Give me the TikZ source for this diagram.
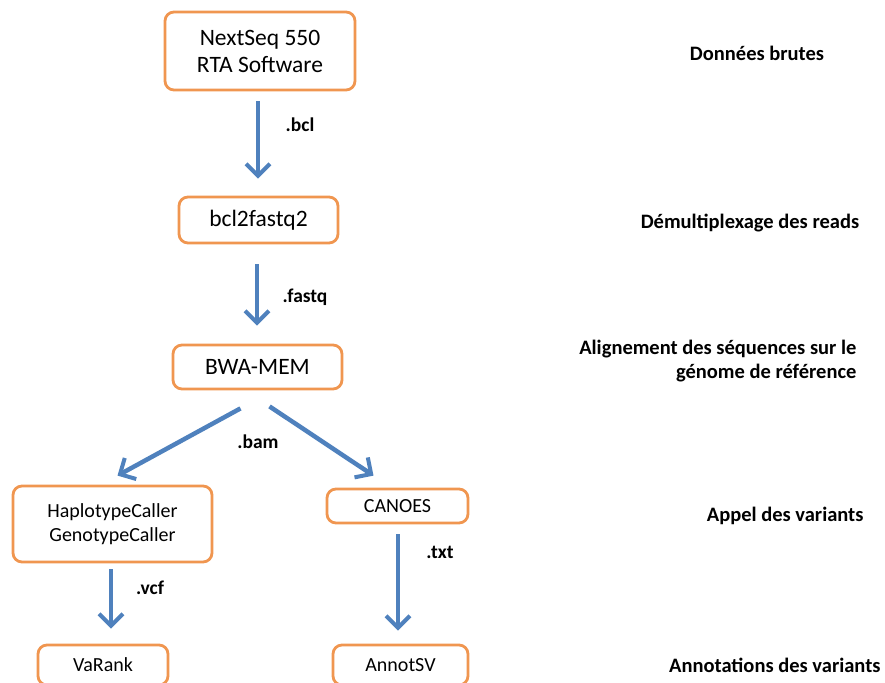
\documentclass[tikz,border=0pt]{standalone}
\usepackage{fontspec}
\setmainfont{Carlito}
\usetikzlibrary{arrows.meta,positioning}
\definecolor{boxorange}{RGB}{240,150,80}
\definecolor{arrowblue}{RGB}{79,129,189}

\begin{document}
\begin{tikzpicture}[x=1pt,y=-1pt,
  toolbox/.style={rectangle,rounded corners=9pt,draw=boxorange,line width=2.8pt,
                  fill=white,align=center,inner sep=0pt},
  bigtext/.style={font=\fontsize{23.5}{27}\selectfont},
  smalltext/.style={font=\fontsize{20}{24}\selectfont},
  flow/.style={-{Straight Barb[length=12pt,width=24pt,line width=4pt]},
               line width=4.5pt,arrowblue},
  ext/.style={font=\bfseries\fontsize{19.5}{22}\selectfont},
  stage/.style={font=\bfseries\fontsize{20.5}{24}\selectfont,align=right}]
\useasboundingbox (0,0) rectangle (885,682);
% pipeline boxes
\node[toolbox,bigtext,minimum width=190pt,minimum height=78pt] (nextseq) at (260,51)
  {NextSeq 550\\RTA Software};
\node[toolbox,bigtext,minimum width=159pt,minimum height=46pt] (bcl) at (258.5,220)
  {bcl2fastq2};
\node[toolbox,bigtext,minimum width=169pt,minimum height=44pt] (bwa) at (257.5,367)
  {BWA-MEM};
\node[toolbox,smalltext,minimum width=199pt,minimum height=76pt] (haplo) at (112.5,524)
  {HaplotypeCaller\\GenotypeCaller};
\node[toolbox,smalltext,minimum width=141pt,minimum height=34pt] (canoes) at (397.5,506)
  {CANOES};
\node[toolbox,smalltext,minimum width=130pt,minimum height=40pt] (varank) at (103,665)
  {VaRank};
\node[toolbox,smalltext,minimum width=135pt,minimum height=40pt] (annotsv) at (400.5,665)
  {AnnotSV};
% arrows
\draw[flow] ([xshift=-2pt,yshift=-10pt]nextseq.south) -- ([xshift=-0.5pt,yshift=17pt]bcl.north);
\draw[flow] ([xshift=-1.5pt,yshift=-20pt]bcl.south) -- ([xshift=-0.5pt,yshift=18pt]bwa.north);
\draw[flow] ([xshift=-17pt,yshift=-18pt]bwa.south) -- ([xshift=5pt,yshift=9pt]haplo.north);
\draw[flow] ([xshift=12pt,yshift=-16pt]bwa.south) -- ([xshift=-24pt,yshift=12pt]canoes.north);
\draw[flow] ([xshift=-1.5pt,yshift=-6pt]haplo.south) -- ([xshift=8pt,yshift=15pt]varank.north);
\draw[flow] ([xshift=0.5pt,yshift=-10pt]canoes.south) -- ([xshift=-2.5pt,yshift=13pt]annotsv.north);
% file formats
\node[ext] (bclext) at (300,125) {.bcl};
\node[ext] (fastqext) at (305,297) {.fastq};
\node[ext] (bamext) at (258,442) {.bam};
\node[ext] (vcfext) at (150,588) {.vcf};
\node[ext] (txtext) at (440,552) {.txt};
% stages
\node[stage] (raw) at (757,53) {Données brutes};
\node[stage] (demux) at (750,223) {Démultiplexage des reads};
\node[stage,anchor=east] (align) at (860,361) {Alignement des séquences sur le\\génome de référence};
\node[stage,anchor=east] (call) at (867,516) {Appel des variants};
\node[stage,anchor=east] (annot) at (884,665) {Annotations des variants};
\end{tikzpicture}
\end{document}
